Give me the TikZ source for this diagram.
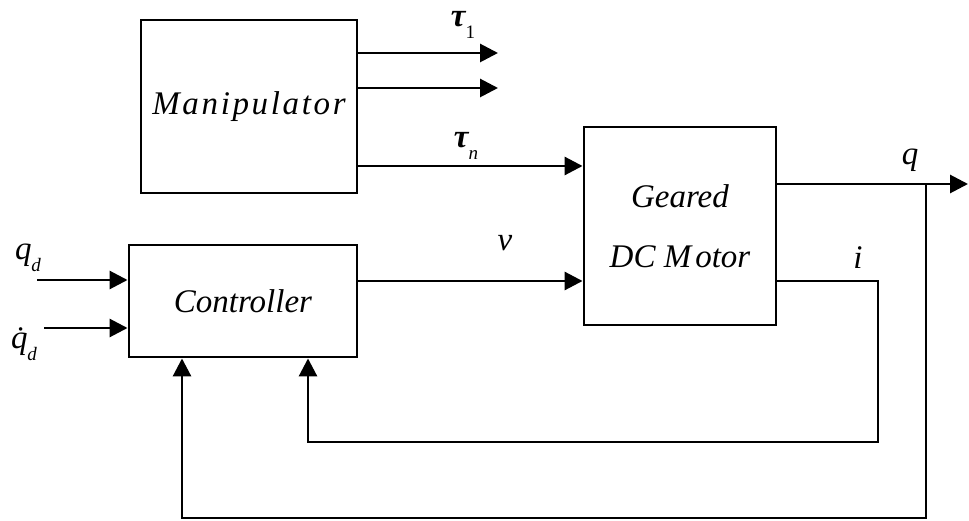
\documentclass[tikz,border=0pt]{standalone}
\usepackage{fontspec}
\setmainfont{Liberation Serif}
\usetikzlibrary{arrows.meta}
\newcommand{\sbs}[2][0.35em]{\raisebox{-#1}{\fontsize{19}{19}\selectfont #2}}
\begin{document}
\begin{tikzpicture}[x=1pt,y=-1pt,
  blk/.style={draw, line width=2.9pt, inner sep=0pt, align=center,
    font=\fontsize{33}{60}\selectfont\itshape},
  wire/.style={line width=2.9pt},
  arr/.style={wire,-{Triangle[length=18pt,width=18pt]}},
  lab/.style={inner sep=0pt, font=\fontsize{33}{33}\selectfont\itshape}]
\useasboundingbox (0,0) rectangle (969,521);
\fill[white] (0,0) rectangle (969,521);

% blocks
\node[blk, minimum width=216pt, minimum height=173pt] (man) at (249,106.5)
  {\addfontfeatures{LetterSpace=8}Manipulator};
\node[blk, minimum width=228pt, minimum height=112pt] (ctrl) at (243,301)
  {Controller};
\node[blk, minimum width=192pt, minimum height=198pt] (mot) at (680,226)
  {Geared\\DC M\kern4pt otor};

% coordinates
\coordinate (t1) at (498,53);
\coordinate (t2) at (498,88);
\coordinate (tn) at (584,166);
\coordinate (vy) at (584,281);
\coordinate (qdin) at (37,280);
\coordinate (qddin) at (44,328);
\coordinate (qout) at (968,184);
\coordinate (qbr) at (926,184);
\coordinate (qlow) at (926,518);
\coordinate (qleft) at (182,518);
\coordinate (iright) at (878,281);
\coordinate (ilow) at (878,442);
\coordinate (ileft) at (308,442);

% manipulator outputs
\draw[arr] (man.east |- t1) -- (t1);
\draw[arr] (man.east |- t2) -- (t2);
\draw[arr] (man.east |- tn) -- (mot.west |- tn);

% controller inputs
\draw[arr] (qdin) -- (ctrl.west |- qdin);
\draw[arr] (qddin) -- (ctrl.west |- qddin);

% v
\draw[arr] (ctrl.east |- vy) -- (mot.west |- vy);

% q output and feedback
\draw[arr] (mot.east |- qout) -- (qout);
\draw[arr] (qbr) -- (qlow) -- (qleft) -- (ctrl.south -| qleft);

% i feedback
\draw[arr] (mot.east |- iright) -- (iright) -- (ilow) -- (ileft) -- (ctrl.south -| ileft);

% labels
\node[lab] (lt1) at (463,25) {{\bfseries τ}\sbs{\upshape 1}};
\node[lab] (ltn) at (466,146) {{\bfseries τ}\sbs{n}};
\node[lab] (lv) at (505,243) {v};
\node[lab] (lq) at (910,160) {q};
\node[lab] (li) at (858,258) {i};
\node[lab] (lqd) at (28,258) {q\sbs{d}};
\node[lab] (lqdd) at (24,344) {q^^^^0307\sbs{d}};
\end{tikzpicture}
\end{document}
